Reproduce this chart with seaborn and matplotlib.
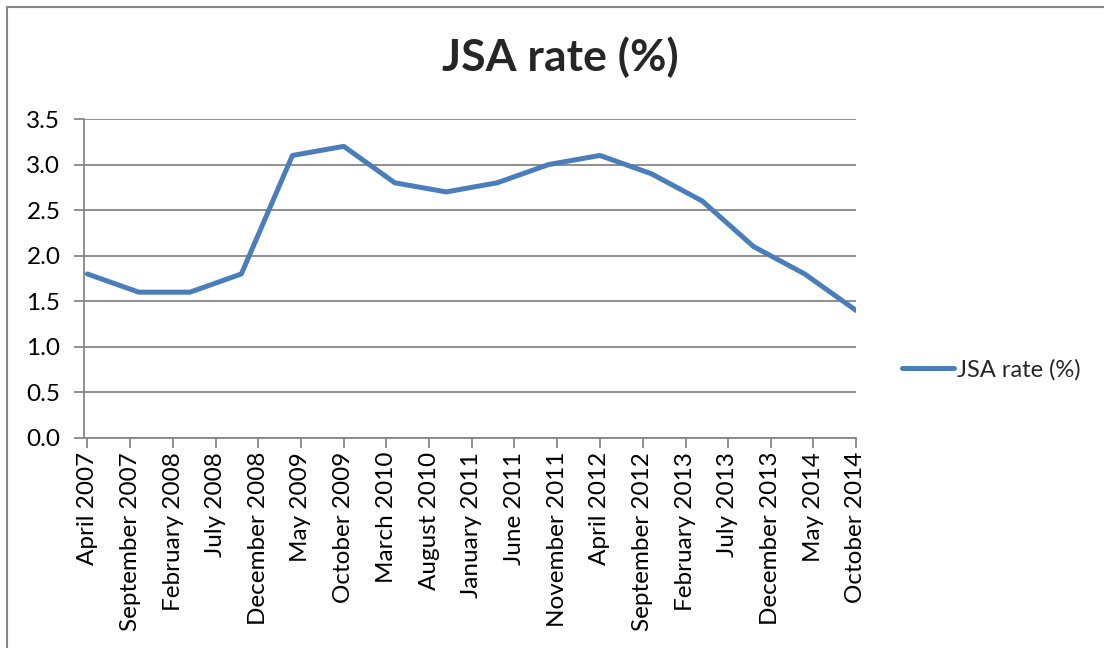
import pandas as pd
import matplotlib
matplotlib.use("Agg")
import matplotlib.pyplot as plt
import seaborn as sns
from matplotlib.patches import Rectangle

# Data: JSA claimant rate, one reading every six months
dates = pd.date_range("2007-04-01", "2014-10-01", freq="6MS")
jsa_rate = [1.8, 1.6, 1.6, 1.8, 3.1, 3.2, 2.8, 2.7,
            2.8, 3.0, 3.1, 2.9, 2.6, 2.1, 1.8, 1.4]

# Axis labels every five months
tick_dates = pd.date_range("2007-04-01", "2014-10-01", freq="5MS")
tick_labels = [d.strftime("%B %Y") for d in tick_dates]

df = pd.DataFrame({"date": dates, "JSA rate (%)": jsa_rate})

sns.set_style("white")
plt.rcParams["font.family"] = ["Lato", "DejaVu Sans"]

grey = "#868686"
fig = plt.figure(figsize=(11.04, 6.48), dpi=100)
ax = fig.add_axes([84 / 1104, 1 - 438 / 648, (856 - 84) / 1104, (438 - 119) / 648])

sns.lineplot(data=df, x="date", y="JSA rate (%)", ax=ax, color="#4A7EBB",
             linewidth=3.6, label="JSA rate (%)", solid_capstyle="round")

ax.set_xlim(pd.Timestamp("2007-03-20"), pd.Timestamp("2014-10-01"))
ax.set_ylim(0, 3.5)
ax.set_yticks([i * 0.5 for i in range(8)])
ax.yaxis.set_major_formatter(matplotlib.ticker.FormatStrFormatter("%.1f"))
ax.set_xticks(tick_dates)
ax.set_xticklabels(tick_labels, rotation=90)
ax.set_xlabel("")
ax.set_ylabel("")

ax.grid(axis="y", color=grey, linewidth=1.3)
ax.set_axisbelow(True)
for side in ["top", "right"]:
    ax.spines[side].set_visible(False)
for side in ["left", "bottom"]:
    ax.spines[side].set_color(grey)
    ax.spines[side].set_linewidth(1.3)
ax.tick_params(axis="both", direction="out", length=7, width=1.3, color=grey,
               labelsize=17.5, labelcolor="black")
ax.tick_params(axis="y", left=True, pad=10)
ax.tick_params(axis="x", bottom=True, pad=3)

fig.suptitle("JSA rate (%)", x=560 / 1104, y=1 - 36 / 648, fontsize=32,
             fontweight="bold")

leg = ax.legend(loc="center left", bbox_to_anchor=(893 / 1104, 1 - 370 / 648),
                bbox_transform=fig.transFigure, frameon=False, fontsize=17,
                handlelength=2.2, handletextpad=0.1, borderaxespad=0)

# chart border (right and bottom edges fall outside the picture)
fig.patches.append(Rectangle((7 / 1104, -0.05), 1.2, 1 - 7 / 648 + 0.05,
                             transform=fig.transFigure, fill=False,
                             edgecolor=grey, linewidth=1.5))

fig.savefig("out.png", dpi=100)
